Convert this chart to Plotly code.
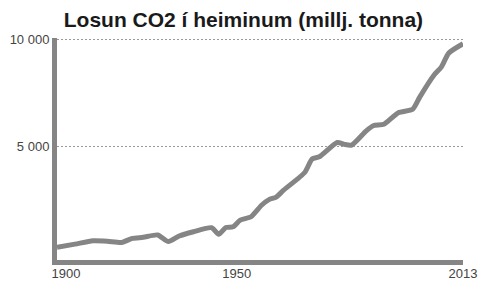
import plotly.graph_objects as go

years = [1900, 1905, 1910, 1914, 1918, 1921, 1924, 1928, 1931, 1934, 1938, 1943, 1945,
         1947, 1949, 1951, 1954, 1957, 1959, 1961, 1963, 1969, 1971, 1973, 1978, 1980,
         1982, 1986, 1988, 1991, 1995, 1999, 2001, 2005, 2007, 2009, 2013]
emissions = [270, 420, 580, 560, 500, 690, 740, 850, 540, 800, 1000, 1190, 880,
             1200, 1230, 1540, 1700, 2250, 2500, 2620, 2930, 3780, 4400, 4500, 5170, 5080,
             5050, 5700, 5950, 6020, 6560, 6720, 7300, 8330, 8700, 9340, 9780]

x_tickvals = [1900, 1950, 2013]
x_ticktext = ["\u00a0\u00a0\u00a0\u00a0\u00a01900", "1950", "2013"]
y_tickvals = [5000, 10000]
y_ticktext = ["5 000", "10 000"]

title_text = "Losun CO2 í heiminum (millj. tonna)"

fig = go.Figure()
fig.add_trace(go.Scatter(
    x=years, y=emissions, mode="lines",
    line=dict(color="#858585", width=5, shape="spline", smoothing=0.6),
    hoverinfo="skip", showlegend=False,
))

fig.update_layout(
    width=482, height=281,
    margin=dict(l=57, r=19, t=38, b=21, pad=0),
    paper_bgcolor="white", plot_bgcolor="white",
    title=dict(text=title_text, x=0.505, xanchor="center", y=1 - 27 / 281, yanchor="bottom",
               font=dict(family="Liberation Sans, Arial", size=21, color="#1a1a1a", weight="bold")),
    font=dict(family="Liberation Sans, Arial", size=13, color="#444444"),
    xaxis=dict(range=[1900, 2013], tickvals=x_tickvals, ticktext=x_ticktext,
               showgrid=False, zeroline=False, showline=True, linecolor="#858585",
               linewidth=5, ticks="", ticklabelstandoff=-3, fixedrange=True, automargin=False),
    yaxis=dict(range=[-320, 10050], tickvals=y_tickvals, ticktext=y_ticktext,
               showgrid=True, gridcolor="#9a9a9a", gridwidth=1, griddash="2px,2px",
               zeroline=False, showline=True, linecolor="#858585", linewidth=5,
               ticks="", ticklabelstandoff=0, fixedrange=True, automargin=False),
)

fig.write_html("out.html", config={"displayModeBar": False},
               post_script="document.body.style.margin='0';")
